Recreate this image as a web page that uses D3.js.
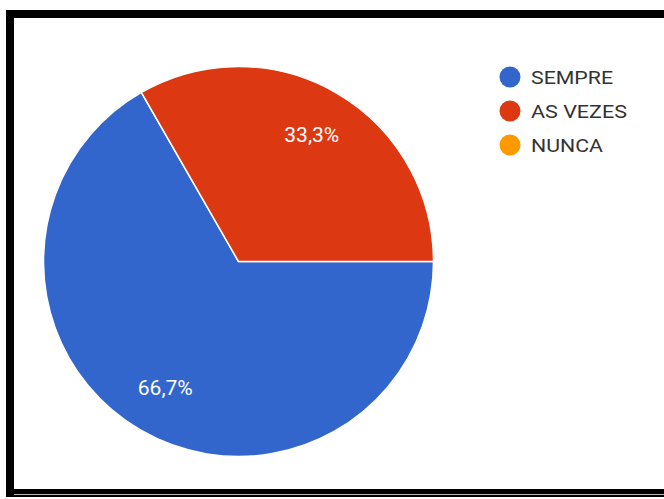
<!DOCTYPE html>
<html>
<head>
<meta charset="utf-8">
<script src="https://cdnjs.cloudflare.com/ajax/libs/d3/7.8.5/d3.min.js"></script>
<style>
    body { margin: 0; background: #fff; }
    svg { display: block; }
</style>
</head>
<body>
<script>
    var categories = ["SEMPRE", "AS VEZES", "NUNCA"];
    var values = [66.7, 33.3, 0];
    var labels = ["66,7%", "33,3%", ""];
    var colors = ["#3366cc", "#dc3912", "#ff9900"];

    var width = 664;
    var height = 499;

    var svg = d3.select("body").append("svg")
        .attr("width", width)
        .attr("height", height);

    // frame of the screenshot
    svg.append("rect")
        .attr("x", 10).attr("y", 14)
        .attr("width", 680).attr("height", 479)
        .attr("fill", "#fff")
        .attr("stroke", "#000")
        .attr("stroke-width", 8);
    svg.append("line")
        .attr("x1", 14).attr("x2", width)
        .attr("y1", 494.5).attr("y2", 494.5)
        .attr("stroke", "#bbb");

    var cx = 238.5, cy = 261.5, r = 195;

    var data = categories.map(function (c, i) {
        return { name: c, value: values[i], label: labels[i], color: colors[i] };
    });

    var pie = d3.pie()
        .sort(null)
        .value(function (d) { return d.value; })
        .startAngle(Math.PI / 2)
        .endAngle(Math.PI / 2 + 2 * Math.PI);

    var arc = d3.arc().innerRadius(0).outerRadius(r);
    var labelArc = d3.arc().innerRadius(r * 0.75).outerRadius(r * 0.75);

    var g = svg.append("g")
        .attr("transform", "translate(" + cx + "," + cy + ")");

    var arcs = pie(data).filter(function (d) { return d.data.value > 0; });

    g.selectAll("path")
        .data(arcs)
        .enter().append("path")
        .attr("d", arc)
        .attr("fill", function (d) { return d.data.color; })
        .attr("stroke", "#fff")
        .attr("stroke-width", 1.5);

    g.selectAll("text")
        .data(arcs)
        .enter().append("text")
        .attr("transform", function (d) { return "translate(" + labelArc.centroid(d) + ")"; })
        .attr("text-anchor", "middle")
        .attr("dy", "0.36em")
        .attr("fill", "#fff")
        .attr("textLength", 55)
        .attr("lengthAdjust", "spacingAndGlyphs")
        .style("font-family", "Roboto, sans-serif")
        .style("font-size", "20px")
        .text(function (d) { return d.data.label; });

    var legend = svg.append("g")
        .attr("transform", "translate(510,77)");

    var items = legend.selectAll("g")
        .data(data)
        .enter().append("g")
        .attr("transform", function (d, i) { return "translate(0," + (i * 34) + ")"; });

    items.append("circle")
        .attr("r", 10.5)
        .attr("fill", function (d) { return d.color; });

    var legendWidths = [82, 96, 72];
    items.append("text")
        .attr("x", 21)
        .attr("dy", "0.36em")
        .attr("fill", "#333")
        .attr("textLength", function (d, i) { return legendWidths[i]; })
        .attr("lengthAdjust", "spacingAndGlyphs")
        .style("font-family", "Roboto, sans-serif")
        .style("font-size", "19px")
        .text(function (d) { return d.name; });
</script>
</body>
</html>
